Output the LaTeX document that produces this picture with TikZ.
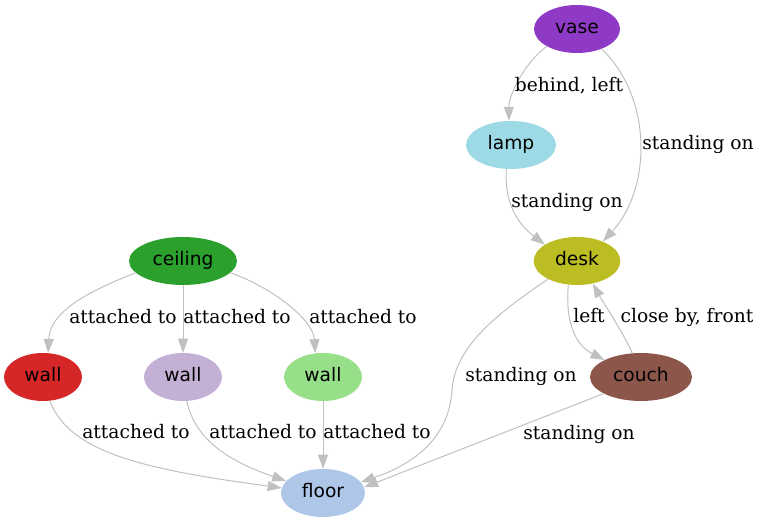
\documentclass[tikz,border=0pt]{standalone}
\usepackage{fontspec}
\setmainfont{DejaVu Serif}
\newfontfamily\objfont{DejaVu Sans}
\usetikzlibrary{arrows.meta,shapes.geometric}

\definecolor{vasecol}{HTML}{8E3AC6}
\definecolor{lampcol}{HTML}{9EDAE5}
\definecolor{deskcol}{HTML}{BCBD22}
\definecolor{couchcol}{HTML}{8C564B}
\definecolor{ceilcol}{HTML}{2CA02C}
\definecolor{wallred}{HTML}{D62728}
\definecolor{wallpurple}{HTML}{C5B0D5}
\definecolor{wallgreen}{HTML}{98DF8A}
\definecolor{floorcol}{HTML}{AEC7E8}
\definecolor{edgecol}{HTML}{C0C0C0}

\tikzset{
 obj/.style={ellipse, inner sep=0pt, minimum height=36pt,
  font=\objfont\fontsize{14}{17}\selectfont, text height=10pt, text depth=3pt},
 rel/.style={draw=edgecol, line width=0.75pt,
  -{Triangle[length=10.5pt,width=7.5pt,fill=edgecol]}},
 lbl/.style={anchor=base, inner sep=0pt, font=\fontsize{14}{17}\selectfont}
}

\begin{document}
\begin{tikzpicture}[x=0.75pt,y=-0.75pt]
\useasboundingbox (0,0) rectangle (761,523);

% objects
\node [obj, fill=vasecol, minimum width=64.5pt] (vase) at (577,29) {vase};
\node [obj, fill=lampcol, minimum width=67.5pt] (lamp) at (511,145) {lamp};
\node [obj, fill=deskcol, minimum width=65pt] (desk) at (577,261) {desk};
\node [obj, fill=couchcol, minimum width=76.5pt] (couch) at (641,377) {couch};
\node [obj, fill=ceilcol, minimum width=81pt] (ceiling) at (183,261) {ceiling};
\node [obj, fill=wallred, minimum width=58.5pt] (walla) at (43,377) {wall};
\node [obj, fill=wallpurple, minimum width=58.5pt] (wallb) at (183,377) {wall};
\node [obj, fill=wallgreen, minimum width=58.5pt] (wallc) at (323,377) {wall};
\node [obj, fill=floorcol, minimum width=63pt] (floor) at (323,493) {floor};

% relations
\draw [rel] (vase.210) .. controls +(-21,15) and +(0,-27) .. (lamp.95);
\draw [rel] (vase.-39) .. controls +(52,50) and +(48,-52) .. (desk.37);
\draw [rel] (lamp.259) .. controls +(-2,30) and +(-30,-23) .. (desk.153);
\draw [rel] (desk.250) .. controls +(-3,34) and +(-31,-16) .. (couch.155);
\draw [rel] (couch.110) .. controls +(-10,-22) and +(11,20) .. (desk.-55);
\draw [rel] (desk.212) .. controls +(-47,32) and +(3,-45) .. (452,390)
  .. controls +(-3,50) and +(50,-17) .. (floor.16);
\draw [rel] (couch.204) -- (floor.8);
\draw [rel] (ceiling.194) .. controls +(-43,17) and +(2,-43) .. (walla.78);
\draw [rel] (ceiling.south) -- (wallb.north);
\draw [rel] (ceiling.-14) .. controls +(43,15) and +(-2,-33) .. (wallc.108);
\draw [rel] (walla.-74) .. controls +(20,53) and +(-133,-18) .. (floor.173);
\draw [rel] (wallb.-81) .. controls +(8,38) and +(-58,-20) .. (floor.162);
\draw [rel] (wallc.south) -- (floor.north);

% labels
\node [lbl] (l1) at (569,92) {behind, left};
\node [lbl] (l2) at (698,150) {standing on};
\node [lbl] (l3) at (567,208) {standing on};
\node [lbl] (l4) at (589,323) {left};
\node [lbl] (l5) at (687,323) {close by, front};
\node [lbl] (l6) at (521,382) {standing on};
\node [lbl] (l7) at (579,440) {standing on};
\node [lbl] (l8) at (123,324) {attached to};
\node [lbl] (l9) at (237,324) {attached to};
\node [lbl] (l10) at (363,324) {attached to};
\node [lbl] (l11) at (136,439) {attached to};
\node [lbl] (l12) at (263,439) {attached to};
\node [lbl] (l13) at (377,439) {attached to};

\end{tikzpicture}
\end{document}
